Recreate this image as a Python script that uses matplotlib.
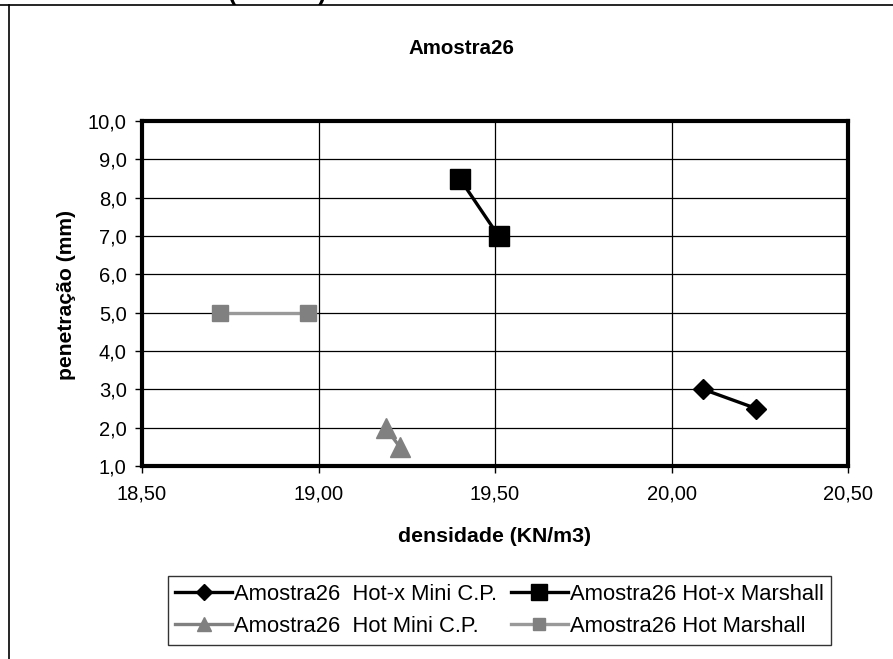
import matplotlib
matplotlib.use("Agg")
import matplotlib.pyplot as plt
from matplotlib.lines import Line2D

plt.rcParams['font.family'] = ['Liberation Sans', 'DejaVu Sans']

# Data
hotx_mini_x = [20.09, 20.24]
hotx_mini_y = [3.0, 2.5]
hotx_marsh_x = [19.40, 19.51]
hotx_marsh_y = [8.5, 7.0]
hot_mini_x = [19.19, 19.23]
hot_mini_y = [2.0, 1.5]
hot_marsh_x = [18.72, 18.97]
hot_marsh_y = [5.0, 5.0]

labels = ["Amostra26  Hot-x Mini C.P.", "Amostra26 Hot-x Marshall",
          "Amostra26  Hot Mini C.P.", "Amostra26 Hot Marshall"]
xticks = [18.5, 19.0, 19.5, 20.0, 20.5]
yticks = [1, 2, 3, 4, 5, 6, 7, 8, 9, 10]

fig = plt.figure(figsize=(8.93, 6.59), dpi=100)
ax = fig.add_axes([142/893, 1-466/659, (848-142)/893, (466-121)/659])

l1, = ax.plot(hotx_mini_x, hotx_mini_y, color='black', lw=2.4, marker='D', ms=10.5,
              mfc='black', mec='black', label=labels[0], zorder=5)
l3, = ax.plot(hot_mini_x, hot_mini_y, color='#808080', lw=2.4, marker='^', ms=14,
              mfc='#808080', mec='#808080', label=labels[2], zorder=5)
l2, = ax.plot(hotx_marsh_x, hotx_marsh_y, color='black', lw=2.4, marker='s', ms=15,
              mfc='black', mec='black', label=labels[1], zorder=5)
l4, = ax.plot(hot_marsh_x, hot_marsh_y, color='#999999', lw=2.4, marker='s', ms=11,
              mfc='#808080', mec='#808080', label=labels[3], zorder=5)

ax.set_xlim(18.5, 20.5)
ax.set_ylim(1, 10)
ax.set_xticks(xticks)
ax.set_yticks(yticks)
ax.set_xticklabels([f"{v:.2f}".replace('.', ',') for v in xticks])
ax.set_yticklabels([f"{v:.1f}".replace('.', ',') for v in yticks])
ax.tick_params(axis='both', direction='out', length=5, width=1, labelsize=14.5, color='black')
ax.tick_params(axis='x', pad=8)
ax.tick_params(axis='y', pad=6)
ax.grid(True, color='black', lw=0.9)
ax.set_axisbelow(True)
for s in ax.spines.values():
    s.set_linewidth(3)
    s.set_color('black')

fig.text(461/893, 1-49/659, "Amostra26", ha='center', va='center', fontsize=14.8, fontweight='bold')
fig.text(494/893, 1-536/659, "densidade (KN/m3)", ha='center', va='center', fontsize=15.3, fontweight='bold')
fig.text(66/893, 1-295/659, "penetração (mm)", ha='center', va='center', rotation=90,
         fontsize=15.2, fontweight='bold')

# clipped title parentheses at the very top (cut off in the reference as well)
fig.text(232/893, 1.0, "(", ha='center', va='baseline', fontsize=18, fontweight='bold')
fig.text(322/893, 1.0, ")", ha='center', va='baseline', fontsize=18, fontweight='bold')

# outer frame lines
fig.add_artist(Line2D([0, 1], [1-5/659, 1-5/659], color='black', lw=1.2, transform=fig.transFigure))
fig.add_artist(Line2D([9/893, 9/893], [0, 1-5/659], color='black', lw=1.2, transform=fig.transFigure))

leg = fig.legend(handles=[l1, l3, l2, l4], labels=[labels[0], labels[2], labels[1], labels[3]], ncol=2,
                 loc='center', bbox_to_anchor=(499.5/893, 1-610.5/659),
                 fontsize=15.8, frameon=True, fancybox=False, edgecolor='black',
                 handlelength=2.6, handletextpad=0.1, columnspacing=0.6,
                 borderpad=0.35, labelspacing=0.5, markerscale=0.75)
leg.get_frame().set_linewidth(1.0)

fig.savefig("out.png", dpi=100)
